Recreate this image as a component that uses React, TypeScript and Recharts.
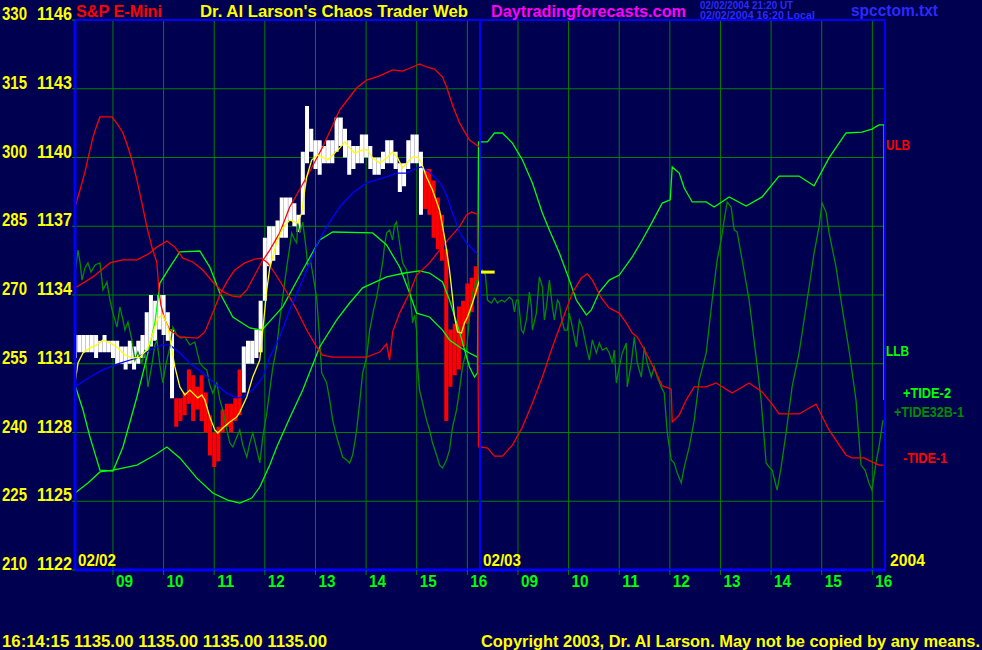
import {
  ComposedChart, Line, XAxis, YAxis, CartesianGrid, ReferenceLine,
} from "recharts";

// time axis: hours since 08:15 on 02/02 (0..8), then 02/03 session (8..16)
const hourTicks = [0.75, 1.75, 2.75, 3.75, 4.75, 5.75, 6.75, 7.75, 8.75, 9.75, 10.75, 11.75, 12.75, 13.75, 14.75, 15.75];
const hourLabels = ["09", "10", "11", "12", "13", "14", "15", "16", "09", "10", "11", "12", "13", "14", "15", "16"];
const priceTicks = [1122, 1125, 1128, 1131, 1134, 1137, 1140, 1143, 1146];
const tideTicks = [210, 225, 240, 255, 270, 285, 300, 315, 330];

// 5-minute bars, 02/02
const barHigh = [
  1132.25, 1132.25, 1132.25, 1132.25, 1132.25, 1132.25, 1132.0, 1132.25, 1132.0, 1132.0,
  1132.0, 1131.75, 1131.75, 1132.0, 1131.75, 1132.0, 1132.25, 1133.25, 1134.0, 1133.75,
  1134.0, 1134.0, 1133.25, 1132.5, 1129.5, 1129.5, 1129.75, 1130.75, 1130.5, 1130.0,
  1130.5, 1129.75, 1128.75, 1128.0, 1128.25, 1129.0, 1129.25, 1129.25, 1129.5, 1130.75,
  1131.75, 1132.0, 1132.0, 1132.5, 1133.75, 1136.5, 1137.0, 1137.0, 1137.25, 1138.25,
  1138.25, 1138.25, 1138.0, 1137.5, 1140.25, 1142.25, 1141.25, 1140.75, 1140.75, 1140.5,
  1140.75, 1140.75, 1141.75, 1141.75, 1141.25, 1140.75, 1140.5, 1140.5, 1141.0, 1141.0,
  1140.5, 1140.0, 1140.0, 1140.25, 1140.75, 1140.75, 1140.25, 1139.75, 1139.75, 1140.75,
  1141.0, 1141.0, 1140.25, 1139.5, 1139.5, 1139.0, 1138.25, 1137.5, 1136.0, 1132.5,
  1132.75, 1133.5, 1133.75, 1134.5, 1134.75, 1135.25,
];
const barLow = [
  1131.25, 1131.5, 1131.5, 1131.5, 1131.5, 1131.25, 1131.5, 1131.5, 1131.5, 1131.25,
  1131.0, 1131.0, 1130.75, 1131.0, 1130.75, 1131.0, 1131.25, 1131.5, 1131.75, 1132.0,
  1132.5, 1132.25, 1132.0, 1129.5, 1128.25, 1128.5, 1128.75, 1129.25, 1128.5, 1129.0,
  1128.5, 1128.0, 1127.0, 1126.5, 1126.75, 1128.0, 1128.25, 1128.0, 1128.5, 1128.75,
  1129.75, 1131.0, 1131.0, 1131.25, 1131.5, 1133.75, 1135.25, 1135.5, 1135.75, 1136.5,
  1136.5, 1137.25, 1137.0, 1136.75, 1137.5, 1139.75, 1140.25, 1139.5, 1139.25, 1139.75,
  1139.75, 1139.75, 1140.25, 1140.5, 1140.0, 1139.25, 1139.5, 1139.75, 1139.75, 1140.0,
  1139.5, 1139.25, 1139.25, 1139.5, 1139.75, 1139.75, 1139.5, 1138.5, 1138.75, 1139.5,
  1139.75, 1139.75, 1137.5, 1137.75, 1137.5, 1136.5, 1136.0, 1135.5, 1128.5, 1130.0,
  1130.5, 1130.75, 1131.75, 1132.75, 1133.25, 1134.0,
];
const redBarRuns = [[24, 39], [83, 95]];

// [time, price]
const ulb = [
  [0, 1134.31], [0.355, 1134.79], [0.69, 1135.4], [0.947, 1135.53], [1.223, 1135.53], [1.48, 1135.83],
  [1.618, 1136.09], [1.815, 1136.36], [1.973, 1136.09], [2.131, 1135.61], [2.328, 1135.44], [2.525, 1135.09],
  [2.722, 1134.57], [2.9, 1134.17], [3.097, 1133.96], [3.255, 1133.91], [3.393, 1134.22], [3.551, 1134.87],
  [3.689, 1135.44], [3.847, 1135.96], [4.044, 1136.71], [4.241, 1137.84], [4.577, 1139.15], [4.892, 1140.46],
  [5.228, 1142.07], [5.425, 1142.64], [5.563, 1143.03], [5.761, 1143.38], [6.017, 1143.56], [6.274, 1143.82],
  [6.471, 1143.77], [6.668, 1143.95], [6.806, 1144.08], [6.944, 1143.95], [7.102, 1143.86], [7.26, 1143.51],
  [7.339, 1143.08], [7.457, 1142.29], [7.595, 1141.51], [7.792, 1140.76], [7.99, 1140.46],
];
const tide1 = [
  [0, 1137.84], [0.099, 1138.58], [0.197, 1139.37], [0.296, 1140.33], [0.355, 1140.89], [0.434, 1141.42],
  [0.493, 1141.77], [0.73, 1141.77], [0.848, 1141.42], [0.947, 1141.07], [1.046, 1140.46], [1.124, 1139.89],
  [1.223, 1139.02], [1.322, 1138.01], [1.42, 1136.97], [1.519, 1136.09], [1.618, 1135.4], [1.657, 1134.22],
  [1.697, 1133.56], [1.776, 1132.91], [1.874, 1132.47], [2.071, 1132.17], [2.426, 1132.12], [2.565, 1132.39],
  [2.703, 1133.13], [2.861, 1134.0], [3.018, 1134.65], [3.156, 1135.09], [3.354, 1135.4], [3.551, 1135.57],
  [3.689, 1135.61], [3.807, 1135.4], [3.946, 1134.96], [4.182, 1134.13], [4.38, 1133.35], [4.577, 1132.47],
  [4.774, 1131.73], [4.893, 1131.38], [5.09, 1131.29], [5.761, 1131.29], [6.017, 1131.51], [6.155, 1131.86],
  [6.214, 1131.16], [6.274, 1132.39], [6.412, 1133.21], [6.609, 1134.09], [6.747, 1134.87], [7.003, 1135.4],
  [7.2, 1135.96], [7.398, 1136.49], [7.595, 1136.97], [7.733, 1137.49], [7.832, 1137.62], [7.95, 1137.53],
  [7.97, 1127.37], [8.01, 1127.37], [8.15, 1127.32], [8.286, 1126.97], [8.443, 1126.97], [8.641, 1127.45],
  [8.838, 1128.24], [9.035, 1129.29], [9.232, 1130.42], [9.43, 1131.73], [9.627, 1132.91], [9.824, 1134.09],
  [10.002, 1134.74], [10.12, 1134.92], [10.219, 1134.65], [10.396, 1133.87], [10.554, 1133.43], [10.751, 1133.21],
  [10.889, 1132.78], [11.008, 1132.34], [11.106, 1132.17], [11.284, 1131.47], [11.481, 1130.6], [11.6, 1130.03],
  [11.777, 1129.9], [11.797, 1128.46], [11.935, 1128.76], [12.073, 1129.42], [12.231, 1129.99], [12.467, 1129.99],
  [12.665, 1130.16], [12.981, 1129.72], [13.316, 1130.16], [13.572, 1129.77], [13.75, 1129.29], [13.908, 1128.81],
  [14.302, 1128.81], [14.637, 1129.24], [14.894, 1128.11], [15.229, 1127.02], [15.348, 1126.89], [15.584, 1126.89],
  [15.88, 1126.58], [15.96, 1126.58],
];
const tide2 = [
  [0, 1125.36], [0.256, 1125.8], [0.493, 1126.28], [0.75, 1126.36], [1.223, 1126.58], [1.578, 1127.02],
  [1.815, 1127.37], [2.071, 1126.89], [2.407, 1126.01], [2.722, 1125.36], [3.018, 1125.05], [3.255, 1124.92],
  [3.492, 1125.14], [3.65, 1125.62], [3.847, 1126.58], [3.985, 1127.37], [4.241, 1128.63], [4.498, 1129.85],
  [4.833, 1131.73], [5.169, 1132.91], [5.425, 1133.65], [5.682, 1134.31], [6.155, 1134.79], [6.51, 1134.96],
  [6.806, 1135.05], [7.003, 1134.96], [7.26, 1134.57], [7.398, 1133.78], [7.595, 1132.39], [7.792, 1130.86],
  [7.89, 1130.42], [7.95, 1130.6], [7.97, 1140.68], [7.99, 1140.68], [8.147, 1140.68], [8.286, 1141.07],
  [8.443, 1141.07], [8.641, 1140.63], [8.838, 1139.89], [9.035, 1138.89], [9.232, 1137.58], [9.37, 1136.84],
  [9.568, 1135.83], [9.765, 1134.65], [9.903, 1133.78], [10.101, 1133.13], [10.199, 1133.35], [10.357, 1134.13],
  [10.554, 1134.65], [10.751, 1134.87], [11.008, 1135.66], [11.205, 1136.4], [11.403, 1137.19], [11.6, 1138.01],
  [11.757, 1138.15], [11.797, 1139.59], [11.935, 1139.32], [12.034, 1138.67], [12.192, 1138.06], [12.467, 1138.06],
  [12.626, 1137.84], [12.922, 1138.28], [13.257, 1137.88], [13.573, 1138.28], [13.908, 1139.19], [14.302, 1139.19],
  [14.598, 1138.76], [14.894, 1139.98], [15.23, 1141.07], [15.545, 1141.11], [15.742, 1141.24], [15.88, 1141.42],
  [15.98, 1141.42], [15.98, 1129.42],
];
const llb = [
  [0, 1130.07], [0.158, 1128.98], [0.296, 1127.8], [0.493, 1126.36], [0.75, 1126.32], [0.947, 1127.37],
  [1.223, 1129.55], [1.42, 1131.29], [1.578, 1132.78], [1.677, 1134.52], [1.874, 1135.22], [2.071, 1135.88],
  [2.466, 1135.92], [2.663, 1135.22], [2.861, 1134.09], [3.117, 1133.04], [3.452, 1132.56], [3.689, 1132.47],
  [4.103, 1133.48], [4.498, 1135.09], [4.833, 1136.4], [5.09, 1136.75], [5.879, 1136.71], [6.155, 1136.18],
  [6.412, 1135.22], [6.609, 1134.09], [6.747, 1133.21], [7.003, 1133.04], [7.26, 1132.47], [7.398, 1132.04],
  [7.595, 1131.73], [7.792, 1131.47], [7.95, 1131.29],
];
const tide32b = [
  [0, 1134.96], [0.059, 1135.96], [0.099, 1135.44], [0.138, 1134.65], [0.197, 1135.18], [0.256, 1135.4],
  [0.316, 1135.0], [0.395, 1135.31], [0.493, 1135.4], [0.533, 1134.65], [0.552, 1134.22], [0.631, 1134.57],
  [0.69, 1133.78], [0.75, 1133.21], [0.829, 1132.6], [0.888, 1133.48], [0.947, 1132.91], [0.986, 1132.47],
  [1.046, 1132.82], [1.124, 1132.04], [1.184, 1131.16], [1.243, 1131.51], [1.322, 1131.03], [1.381, 1131.6],
  [1.44, 1129.99], [1.519, 1130.95], [1.578, 1131.82], [1.618, 1132.04], [1.677, 1130.95], [1.736, 1130.16],
  [1.795, 1130.95], [1.874, 1131.73], [1.933, 1132.6], [2.012, 1132.25], [2.091, 1132.12], [2.17, 1132.17],
  [2.269, 1131.82], [2.367, 1131.95], [2.466, 1131.03], [2.545, 1130.82], [2.604, 1130.73], [2.663, 1130.07],
  [2.722, 1129.72], [2.801, 1130.16], [2.861, 1129.42], [2.92, 1128.98], [2.999, 1128.11], [3.058, 1127.54],
  [3.117, 1127.37], [3.196, 1127.8], [3.255, 1128.11], [3.314, 1127.45], [3.393, 1126.93], [3.452, 1127.54],
  [3.512, 1127.98], [3.591, 1127.24], [3.65, 1126.67], [3.709, 1127.8], [3.788, 1128.85], [3.847, 1129.85],
  [3.906, 1130.82], [3.985, 1131.73], [4.044, 1132.91], [4.103, 1133.91], [4.182, 1135.22], [4.241, 1136.09],
  [4.281, 1136.71], [4.34, 1136.4], [4.38, 1136.27], [4.399, 1137.14], [4.439, 1136.71], [4.498, 1137.18],
  [4.557, 1136.18], [4.597, 1135.31], [4.656, 1135.44], [4.695, 1134.96], [4.774, 1133.87], [4.833, 1132.04],
  [4.873, 1130.6], [4.971, 1130.16], [5.031, 1129.42], [5.09, 1128.54], [5.169, 1127.8], [5.228, 1127.37],
  [5.287, 1126.93], [5.366, 1126.8], [5.425, 1126.67], [5.484, 1127.02], [5.524, 1127.54], [5.563, 1128.11],
  [5.622, 1129.29], [5.682, 1130.6], [5.761, 1131.29], [5.82, 1132.47], [5.899, 1133.35], [5.958, 1133.91],
  [6.017, 1134.65], [6.076, 1135.4], [6.116, 1136.18], [6.155, 1136.71], [6.214, 1136.84], [6.274, 1136.4],
  [6.313, 1137.05], [6.352, 1137.18], [6.412, 1136.27], [6.471, 1135.4], [6.55, 1135.09], [6.609, 1134.22],
  [6.648, 1133.35], [6.668, 1132.78], [6.708, 1133.13], [6.747, 1132.47], [6.767, 1130.86], [6.806, 1129.85],
  [6.865, 1129.29], [6.944, 1128.54], [7.003, 1128.11], [7.063, 1127.54], [7.142, 1127.02], [7.201, 1126.58],
  [7.26, 1126.45], [7.339, 1126.8], [7.398, 1127.24], [7.457, 1128.24], [7.536, 1128.98], [7.595, 1129.85],
  [7.654, 1130.86], [7.733, 1131.6], [7.793, 1133.04], [7.852, 1134.09], [7.931, 1134.65], [7.95, 1134.35],
  [7.99, 1134.96], [8.049, 1135.09], [8.108, 1134.87], [8.148, 1133.78], [8.227, 1133.65], [8.286, 1133.87],
  [8.345, 1133.65], [8.424, 1133.78], [8.483, 1133.7], [8.582, 1133.91], [8.641, 1133.78], [8.68, 1133.26],
  [8.72, 1133.78], [8.759, 1133.78], [8.818, 1132.47], [8.858, 1132.34], [8.917, 1132.91], [8.976, 1134.13],
  [9.016, 1133.48], [9.035, 1132.47], [9.114, 1133.21], [9.173, 1134.79], [9.233, 1134.35], [9.272, 1132.91],
  [9.312, 1133.48], [9.371, 1134.65], [9.43, 1133.48], [9.469, 1132.91], [9.529, 1133.78], [9.568, 1133.65],
  [9.607, 1133.04], [9.667, 1132.47], [9.726, 1132.47], [9.765, 1133.21], [9.824, 1132.6], [9.903, 1131.73],
  [9.962, 1132.91], [10.022, 1132.6], [10.101, 1131.73], [10.16, 1131.16], [10.219, 1132.04], [10.298, 1131.47],
  [10.357, 1131.91], [10.416, 1131.6], [10.495, 1131.69], [10.554, 1131.47], [10.614, 1131.03], [10.653, 1131.6],
  [10.693, 1130.16], [10.752, 1130.86], [10.811, 1131.47], [10.89, 1131.91], [10.909, 1129.99], [10.988, 1131.03],
  [11.048, 1132.17], [11.107, 1131.03], [11.186, 1130.42], [11.245, 1131.73], [11.304, 1131.03], [11.383, 1130.42],
  [11.442, 1130.86], [11.501, 1130.42], [11.58, 1129.99], [11.64, 1129.72], [11.699, 1127.98], [11.778, 1126.8],
  [11.837, 1126.67], [11.896, 1126.23], [11.975, 1125.8], [12.034, 1126.49], [12.133, 1127.37], [12.232, 1128.54],
  [12.33, 1130.29], [12.468, 1131.47], [12.586, 1133.78], [12.685, 1135.53], [12.764, 1136.4], [12.823, 1137.27],
  [12.882, 1138.06], [12.961, 1137.84], [13.02, 1136.84], [13.079, 1136.75], [13.178, 1135.53], [13.316, 1133.78],
  [13.454, 1131.29], [13.553, 1129.42], [13.652, 1126.67], [13.711, 1126.49], [13.77, 1126.36], [13.869, 1125.49],
  [13.948, 1126.49], [14.046, 1127.98], [14.165, 1129.99], [14.303, 1131.47], [14.5, 1134.35], [14.599, 1135.83],
  [14.697, 1136.97], [14.756, 1138.01], [14.835, 1137.62], [14.895, 1136.71], [15.033, 1135.22], [15.151, 1133.48],
  [15.289, 1131.6], [15.427, 1129.42], [15.526, 1126.58], [15.605, 1126.36], [15.684, 1125.8], [15.743, 1125.49],
  [15.822, 1126.67], [15.881, 1127.37], [15.96, 1128.54],
];
const slowAvg = [
  [0, 1129.99], [0.296, 1130.42], [0.552, 1130.73], [0.888, 1131.03], [1.223, 1131.25], [1.48, 1131.6],
  [1.716, 1131.82], [1.874, 1131.82], [2.071, 1131.47], [2.269, 1131.03], [2.525, 1130.6], [2.801, 1130.07],
  [2.999, 1129.72], [3.196, 1129.51], [3.314, 1129.55], [3.511, 1129.85], [3.709, 1130.42], [3.847, 1131.29],
  [4.044, 1132.17], [4.241, 1133.35], [4.439, 1134.35], [4.636, 1135.4], [4.794, 1136.27], [4.971, 1136.97],
  [5.228, 1137.84], [5.484, 1138.45], [5.761, 1138.89], [5.958, 1139.02], [6.155, 1139.15], [6.352, 1139.32],
  [6.55, 1139.32], [6.747, 1139.54], [6.845, 1139.59], [7.003, 1139.37], [7.2, 1138.93], [7.339, 1138.36],
  [7.457, 1137.58], [7.595, 1136.75], [7.733, 1136.27], [7.852, 1136.01], [7.95, 1135.79],
];
const fastAvg = [
  [0, 1130.16], [0.059, 1131.03], [0.158, 1131.47], [0.296, 1131.69], [0.434, 1131.82], [0.552, 1132.04],
  [0.69, 1131.91], [0.829, 1131.73], [0.986, 1131.38], [1.124, 1131.25], [1.282, 1131.29], [1.42, 1131.6],
  [1.539, 1132.34], [1.637, 1133.0], [1.736, 1133.13], [1.835, 1132.6], [1.914, 1131.6], [1.973, 1130.86],
  [2.071, 1129.99], [2.17, 1129.64], [2.269, 1129.85], [2.426, 1129.51], [2.505, 1129.64], [2.565, 1129.42],
  [2.663, 1128.68], [2.762, 1128.11], [2.821, 1127.98], [2.92, 1128.2], [3.058, 1128.46], [3.196, 1128.68],
  [3.255, 1128.89], [3.393, 1129.55], [3.511, 1130.42], [3.65, 1131.16], [3.709, 1132.47], [3.788, 1134.22],
  [3.847, 1135.18], [3.985, 1136.31], [4.103, 1136.92], [4.241, 1137.27], [4.399, 1137.14], [4.478, 1137.58],
  [4.518, 1138.28], [4.577, 1139.15], [4.675, 1139.89], [4.794, 1140.11], [4.892, 1140.02], [4.991, 1139.89],
  [5.09, 1140.11], [5.228, 1140.41], [5.327, 1140.68], [5.425, 1140.41], [5.524, 1140.2], [5.682, 1140.33],
  [5.78, 1140.33], [5.879, 1139.98], [6.017, 1139.76], [6.155, 1139.98], [6.274, 1140.24], [6.372, 1139.98],
  [6.471, 1139.54], [6.57, 1139.8], [6.668, 1140.02], [6.767, 1140.02], [6.845, 1139.76], [6.944, 1139.15],
  [7.062, 1138.58], [7.2, 1137.71], [7.3, 1136.53], [7.398, 1135.09], [7.457, 1133.91], [7.497, 1133.04],
  [7.556, 1132.39], [7.635, 1132.34], [7.693, 1132.78], [7.753, 1133.04], [7.852, 1133.65], [7.93, 1134.22],
  [7.99, 1134.65],
];
const lastPrice = [[8.0, 1135], [8.29, 1135]];

const FONT = "'Liberation Sans', Arial, sans-serif";
const BG = "#000050";

// each price bar becomes a vertical segment low->high, broken by a null point
const isRed = (i: number) => redBarRuns.some(([a, b]) => i >= a && i <= b);
const barSegments = (red: boolean) =>
  barHigh.flatMap((hi, i) =>
    isRed(i) === red
      ? [{ t: i / 12, p: barLow[i] }, { t: i / 12, p: hi }, { t: i / 12, p: null }]
      : []
  );
const pts = (list: number[][]) => list.map(([t, p]) => ({ t, p }));

function Txt({ x, y, w, size = 16, color, children, anchor = "start" }: any) {
  return (
    <text x={x} y={y} fill={color} fontSize={size} fontWeight="bold" fontFamily={FONT}
      textAnchor={anchor} textLength={w} lengthAdjust="spacingAndGlyphs">
      {children}
    </text>
  );
}

function HourTick({ x, y, payload }: any) {
  const i = hourTicks.indexOf(payload.value);
  return <Txt x={x + 3} y={y + 12} w={17} color="#00ff00">{hourLabels[i]}</Txt>;
}

function PriceTick({ x, y, payload }: any) {
  const i = priceTicks.indexOf(payload.value);
  return (
    <g>
      <Txt x={x - 45} y={y} w={25} size={18} color="#ffff00" anchor="end">{tideTicks[i]}</Txt>
      <Txt x={x} y={y} w={35} size={18} color="#ffff00" anchor="end">{payload.value}</Txt>
    </g>
  );
}

const series = [
  { name: "tide32b", data: tide32b, color: "#008c00" },
  { name: "llb", data: llb, color: "#00ff00" },
  { name: "tide2", data: tide2, color: "#00ff00" },
  { name: "ulb", data: ulb, color: "#ff0000" },
  { name: "tide1", data: tide1, color: "#ff0000" },
  { name: "slow", data: slowAvg, color: "#0000ff" },
  { name: "fast", data: fastAvg, color: "#ffff00" },
];

export default function App() {
  return (
    <div style={{ position: "absolute", left: 0, top: 0, width: 982, height: 650, background: BG, overflow: "hidden" }}>
      <ComposedChart width={982} height={650} margin={{ top: 20, right: 97, bottom: 0, left: 0 }}>
        <CartesianGrid stroke="#008000" strokeWidth={1} />
        <XAxis type="number" dataKey="t" domain={[0, 16]} ticks={hourTicks} interval={0} height={80}
          allowDataOverflow axisLine={{ stroke: "#0000ff", strokeWidth: 3 }} tickLine={{ stroke: "#008000" }}
          tickSize={5} tickMargin={0} tick={(p: any) => <HourTick {...p} />} />
        <YAxis type="number" domain={[1122, 1146]} ticks={priceTicks} interval={0} width={75}
          allowDataOverflow axisLine={{ stroke: "#0000ff", strokeWidth: 3 }} tickLine={{ stroke: "#008000" }}
          tickSize={3} tickMargin={0} tick={(p: any) => <PriceTick {...p} />} />
        <Line data={barSegments(false)} dataKey="p" stroke="#ffffff" strokeWidth={4} strokeLinecap="butt"
          dot={false} activeDot={false} isAnimationActive={false} />
        <Line data={barSegments(true)} dataKey="p" stroke="#ff0000" strokeWidth={4} strokeLinecap="butt"
          dot={false} activeDot={false} isAnimationActive={false} />
        {series.map((s) => (
          <Line key={s.name} data={pts(s.data)} dataKey="p" type="linear" stroke={s.color} strokeWidth={1.3}
            dot={false} activeDot={false} isAnimationActive={false} />
        ))}
        <Line data={pts(lastPrice)} dataKey="p" stroke="#ffff00" strokeWidth={3} dot={false}
          activeDot={false} isAnimationActive={false} />
        <ReferenceLine x={8} stroke="#0000ff" strokeWidth={2} />
        <ReferenceLine x={16} stroke="#0000ff" strokeWidth={2} />
        <ReferenceLine y={1146} stroke="#0000ff" strokeWidth={2} />
      </ComposedChart>
      <svg width={982} height={650} style={{ position: "absolute", left: 0, top: 0, pointerEvents: "none" }}>
        <Txt x={76} y={17} w={86} color="#ff0000">S&amp;P E-Mini</Txt>
        <Txt x={200} y={17} w={268} color="#ffff00">Dr. Al Larson's Chaos Trader Web</Txt>
        <Txt x={491} y={17} w={195} color="#ff00ff">Daytradingforecasts.com</Txt>
        <Txt x={700} y={9} w={93} size={10} color="#2a2aff">02/02/2004 21:20 UT</Txt>
        <Txt x={700} y={19} w={115} size={10} color="#2a2aff">02/02/2004 16:20 Local</Txt>
        <Txt x={851} y={16} w={87} color="#2a2aff">spcctom.txt</Txt>
        <Txt x={78} y={566} w={38} color="#ffff00">02/02</Txt>
        <Txt x={483} y={566} w={38} color="#ffff00">02/03</Txt>
        <Txt x={890} y={566} w={35} color="#ffff00">2004</Txt>
        <Txt x={886} y={150} w={24} size={14} color="#ff0000">ULB</Txt>
        <Txt x={886} y={356} w={23} size={14} color="#00ff00">LLB</Txt>
        <Txt x={903} y={398} w={48} size={14} color="#00ff00">+TIDE-2</Txt>
        <Txt x={894} y={417} w={70} size={14} color="#008c00">+TIDE32B-1</Txt>
        <Txt x={903} y={463} w={44} size={14} color="#ff0000">-TIDE-1</Txt>
        <Txt x={2} y={647} w={325} color="#ffff00">16:14:15  1135.00 1135.00 1135.00 1135.00</Txt>
        <Txt x={481} y={647} w={499} color="#ffff00">Copyright 2003, Dr. Al Larson. May not be copied by any means.</Txt>
      </svg>
    </div>
  );
}
